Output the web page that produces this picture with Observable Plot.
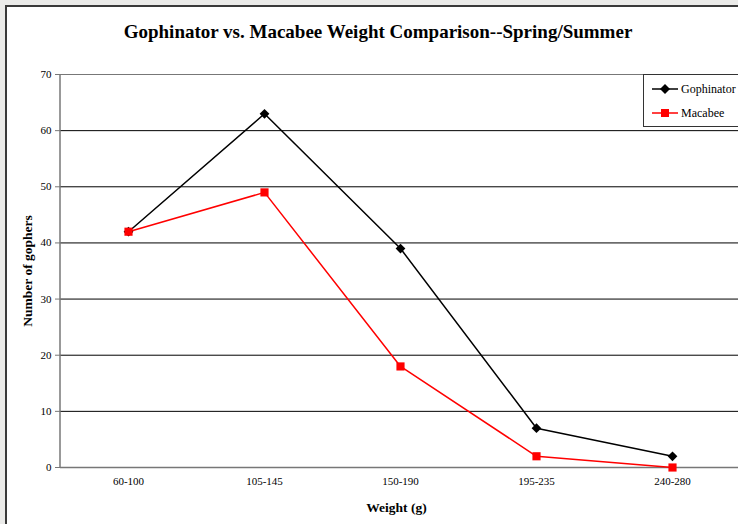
<!DOCTYPE html>
<html><head><meta charset="utf-8">
<script src="https://cdn.jsdelivr.net/npm/d3@7"></script>
<script src="https://cdn.jsdelivr.net/npm/@observablehq/plot@0.6"></script>
<style>
html,body{margin:0;padding:0;background:#ebebe9;overflow:hidden;}
#wrap{position:relative;width:738px;height:524px;overflow:hidden;font-family:"Liberation Serif","Times New Roman",serif;}
#frame{position:absolute;left:5px;top:5px;width:760px;height:560px;background:#fff;border-left:2px solid #3a3a3a;border-top:2px solid #3a3a3a;}
#title{position:absolute;left:0;width:756px;top:21px;text-align:center;font-weight:bold;font-size:19px;color:#000;}
#chart{position:absolute;left:0;top:0;}
#legend{position:absolute;left:643px;top:74px;width:110px;height:51px;border:1px solid #333;background:#fff;}
.li{position:absolute;left:8px;height:16px;display:flex;align-items:center;font-size:12px;color:#000;}
.li svg{margin-right:3px;}
</style></head>
<body><div id="wrap"><div id="frame"></div><div id="title">Gophinator vs. Macabee Weight Comparison--Spring/Summer</div><div id="chart"></div>
<div id="legend">
<div class="li" style="top:6px"><svg width="26" height="12"><line x1="0" x2="26" y1="6" y2="6" stroke="#000" stroke-width="1.5"/><path d="M13,1 L18,6 L13,11 L8,6Z" fill="#000"/></svg>Gophinator</div>
<div class="li" style="top:30px"><svg width="26" height="12"><line x1="0" x2="26" y1="6" y2="6" stroke="#f00" stroke-width="1.5"/><rect x="9" y="2" width="8" height="8" fill="#f00"/></svg>Macabee</div>
</div>
</div>
<script>
const categories = ["60-100","105-145","150-190","195-235","240-280"];
const gophinator = [42,63,39,7,2];
const macabee = [42,49,18,2,0];
const yTicks = [0,10,20,30,40,50,60,70];

const data = [];
categories.forEach((c,i)=>{
  data.push({cat:c, value:gophinator[i], series:"Gophinator"});
  data.push({cat:c, value:macabee[i], series:"Macabee"});
});
const gData = data.filter(d=>d.series==="Gophinator");
const mData = data.filter(d=>d.series==="Macabee");

const chart = Plot.plot({
  width:738, height:524,
  marginLeft:60, marginRight:-2, marginTop:74, marginBottom:57,
  style:{fontFamily:"'Liberation Serif','Times New Roman',serif", fontSize:"11px", background:"transparent", color:"#000"},
  x:{type:"point", domain:categories, padding:0.5},
  y:{domain:[0,70]},
  marks:[
    Plot.ruleY(yTicks.filter(t=>t>0 && t<70), {stroke:"#000", strokeWidth:1}),
    Plot.ruleY([70], {stroke:"#777", strokeWidth:1}),
    Plot.axisY({ticks:yTicks, tickSize:5, tickPadding:4, label:null, stroke:"#777", fontSize:11}),
    Plot.axisX({tickSize:0, tickPadding:10, label:null, fontSize:11}),
    Plot.ruleY([0], {stroke:"#777", strokeWidth:1.5}),
    Plot.lineY(mData, {x:"cat", y:"value", stroke:"#ff0000", strokeWidth:1.5}),
    Plot.lineY(gData, {x:"cat", y:"value", stroke:"#000", strokeWidth:1.5}),
    Plot.dot(gData, {x:"cat", y:"value", symbol:"diamond2", r:4.4, fill:"#000", stroke:"none"}),
    Plot.dot(mData, {x:"cat", y:"value", symbol:"square", r:4.6, fill:"#ff0000", stroke:"none"}),
    Plot.text(["Number of gophers"], {frameAnchor:"left", dx:-33, rotate:-90, textAnchor:"middle", fontWeight:"bold", fontSize:13.5, fill:"#000"}),
    Plot.text(["Weight (g)"], {frameAnchor:"bottom", dy:44, dx:-4, fontWeight:"bold", fontSize:13.5, fill:"#000"})
  ]
});
const svg = d3.select(chart);
svg.append("line").attr("x1",60).attr("x2",60).attr("y1",74).attr("y2",467).attr("stroke","#777").attr("stroke-width",1.5);
document.getElementById("chart").appendChild(chart);
</script>
</body></html>
